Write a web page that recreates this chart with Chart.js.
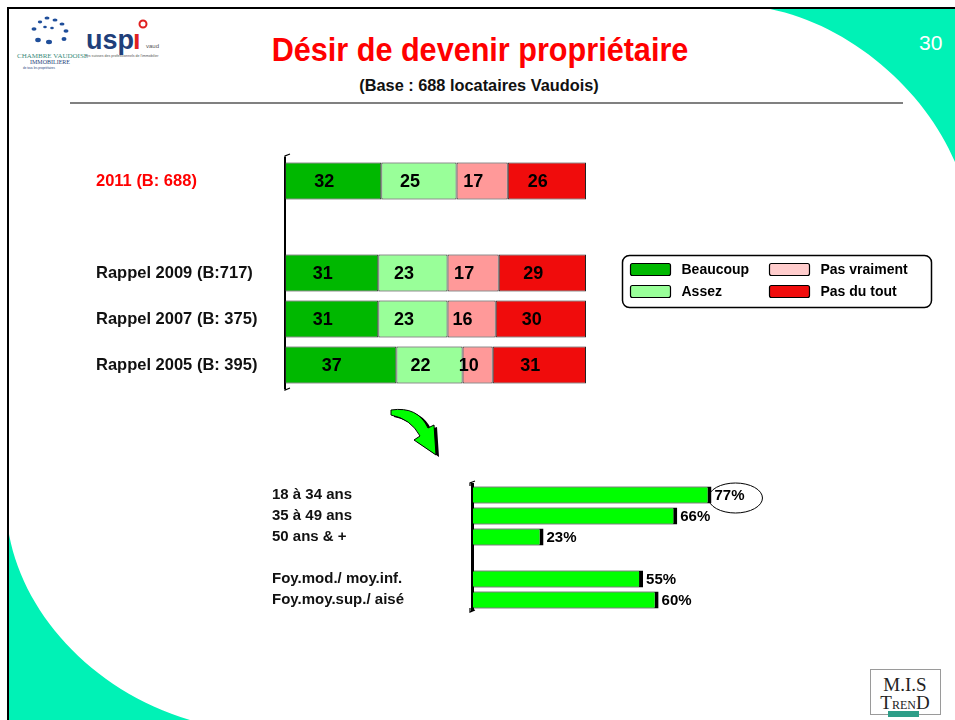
<!DOCTYPE html>
<html><head><meta charset="utf-8">
<script src="https://cdn.jsdelivr.net/npm/chart.js@4.4.0/dist/chart.umd.min.js"></script>
<style>
html,body{margin:0;padding:0;background:#fff;}
body{width:955px;height:720px;position:relative;overflow:hidden;font-family:'Liberation Sans Narrow','Arial Narrow','Liberation Sans',sans-serif;}
#deco{position:absolute;left:0;top:0;}
.t{position:absolute;white-space:nowrap;line-height:1;}
canvas{position:absolute;}
</style></head><body>
<svg id="deco" width="955" height="720">
  <path d="M770 9 C850 25 925 90 955 162 L955 9 Z" fill="#00F2B6"/>
  <path d="M8 528 C20 610 90 690 190 720 L8 720 Z" fill="#00F2B6"/>
  <line x1="7" y1="8" x2="955" y2="8" stroke="#000" stroke-width="2"/>
  <line x1="8" y1="7" x2="8" y2="720" stroke="#000" stroke-width="2"/>
  <line x1="70" y1="103" x2="903" y2="103" stroke="#808080" stroke-width="2"/>
  <!-- top-left logo -->
  <g fill="#1F4E9A">
    <ellipse cx="47" cy="18" rx="2.5" ry="1.5"/>
    <ellipse cx="55" cy="20" rx="2.5" ry="1.5"/>
    <ellipse cx="62" cy="24" rx="2.5" ry="1.6"/>
    <ellipse cx="66" cy="31" rx="2.5" ry="1.8"/>
    <ellipse cx="64" cy="39" rx="2.5" ry="2"/>
    <ellipse cx="40" cy="22" rx="2.2" ry="1.4"/>
    <ellipse cx="34" cy="29" rx="2.5" ry="1.8"/>
    <ellipse cx="38" cy="40" rx="2.8" ry="2.2"/>
    <ellipse cx="49" cy="42" rx="3" ry="2.2"/>
    <ellipse cx="52" cy="28" rx="1.8" ry="1.2"/>
    <ellipse cx="45" cy="27" rx="1.8" ry="1.2"/>
  </g>
  <text x="17" y="58" font-family="Liberation Serif" font-size="7" fill="#3C8C7C">CHAMBRE VAUDOISE</text>
  <text x="30" y="64" font-family="Liberation Serif" font-size="6" fill="#1F3F7A">IMMOBILIERE</text>
  <text x="23" y="69" font-family="Liberation Sans" font-size="3" fill="#1F3F7A">de tous les propriétaires</text>
  <text x="86" y="49" font-family="Liberation Sans" font-weight="bold" font-size="27" fill="#1F3F7A">usp</text>
  <text x="133" y="49" font-family="Liberation Sans" font-weight="bold" font-size="27" fill="#E02020">ı</text>
  <circle cx="143" cy="24" r="3.5" fill="none" stroke="#E02020" stroke-width="2"/>
  <text x="146" y="48" font-family="Liberation Sans" font-size="6" fill="#555">vaud</text>
  <text x="86" y="57" font-family="Liberation Sans" font-size="3.6" fill="#555">les suisses des professionnels de l'immobilier</text>
  <!-- axis brackets (3D floor edges) -->
  <path d="M285 160 L285 156 L290 154" fill="none" stroke="#000" stroke-width="1.2"/>
  <path d="M285 386 L285 390 L290 388" fill="none" stroke="#000" stroke-width="1.2"/>
  <path d="M470 486 L470 483 L475 481" fill="none" stroke="#000" stroke-width="1.2"/>
  <path d="M470 608 L470 612 L475 610" fill="none" stroke="#000" stroke-width="1.2"/>
  <!-- arrow -->
  <path d="M394 412 Q421 408 431 429 L437 427 L439 457 L417 442 L423 438 Q414 421 394 417 Z" fill="#000"/>
  <path d="M391 410 Q418 406 428 428 L434 425 L436 455 L414 440 L420 436 Q411 419 391 415 Z" fill="#00FF00" stroke="#000" stroke-width="1"/>
  <!-- MIS TREND logo -->
  <rect x="870.5" y="669.5" width="70" height="45" fill="#fff" stroke="#9a9a9a" stroke-width="1"/>
  <text x="905" y="691" text-anchor="middle" font-family="Liberation Serif" font-size="19" fill="#222">M.I.S</text>
  <text x="905" y="709" text-anchor="middle" font-family="Liberation Serif" fill="#222"><tspan font-size="19">T</tspan><tspan font-size="12">REN</tspan><tspan font-size="19">D</tspan></text>
  <rect x="888" y="711" width="31" height="6" fill="#2E9E88"/>
</svg>

<div class="t" style="left:0;width:960px;text-align:center;top:32px;font-size:34px;font-weight:bold;color:#FF0000;transform:scaleX(0.9);transform-origin:480px 0;">Désir de devenir propriétaire</div>
<div class="t" style="left:0;width:958px;text-align:center;top:77px;font-size:17px;font-weight:bold;color:#111;transform:scaleX(0.96);transform-origin:479px 0;">(Base : 688 locataires Vaudois)</div>
<div class="t" style="left:919px;top:32px;font-size:21px;color:#fff;">30</div>

<canvas id="c1" width="870" height="260" style="left:80px;top:143px;"></canvas>
<canvas id="c2" width="560" height="155" style="left:260px;top:470px;"></canvas>

<script>
// ---------- data (top chart) ----------
const years = ['2011 (B: 688)', '', 'Rappel 2009 (B:717)', 'Rappel 2007 (B: 375)', 'Rappel 2005 (B: 395)'];
const beaucoup    = [32, null, 31, 31, 37];
const assez       = [25, null, 23, 23, 22];
const pasVraiment = [17, null, 17, 16, 10];
const pasDuTout   = [26, null, 29, 30, 31];
const seriesNames = ['Beaucoup', 'Assez', 'Pas vraiment', 'Pas du tout'];

// ---------- data (bottom chart) ----------
const groups = ['18 à 34 ans', '35 à 49 ans', '50 ans & +', '', 'Foy.mod./ moy.inf.', 'Foy.moy.sup./ aisé'];
const desire = [77, 66, 23, null, 55, 60];

// ---------- styles ----------
const FONT = "'Liberation Sans Narrow','Arial Narrow','Liberation Sans',sans-serif";
const barColors = ['#00B800', '#99FF99', '#FF9999', '#F00C0C'];
const legendColors = ['#00B800', '#99FF99', '#FFCCCC', '#F00C0C'];

const stackLabels = {
  id: 'stackLabels',
  afterDatasetsDraw(chart) {
    const ctx = chart.ctx;
    ctx.save();
    ctx.font = 'bold 18px ' + FONT;
    ctx.fillStyle = '#000';
    ctx.textAlign = 'center';
    ctx.textBaseline = 'middle';
    chart.data.datasets.forEach((ds, i) => {
      chart.getDatasetMeta(i).data.forEach((bar, j) => {
        const v = ds.data[j];
        if (v == null) return;
        ctx.fillText(String(v), (bar.x + bar.base) / 2 - 9, bar.y + 1);
      });
    });
    ctx.restore();
  }
};

const boxLegend = {
  id: 'boxLegend',
  afterDraw(chart) {
    const ctx = chart.ctx;
    const bx = 542.5, by = 112.5, bw = 309, bh = 52;
    ctx.save();
    ctx.lineWidth = 1.5;
    ctx.strokeStyle = '#000';
    ctx.fillStyle = '#fff';
    ctx.beginPath();
    ctx.roundRect(bx, by, bw, bh, 7);
    ctx.fill(); ctx.stroke();
    ctx.font = 'bold 14px ' + FONT;
    ctx.textBaseline = 'middle';
    ctx.textAlign = 'left';
    const cols = [bx + 8, bx + 147];
    const rows = [by + 14, by + 36];
    seriesNames.forEach((name, si) => {
      const cx = (si === 0 || si === 1) ? cols[0] : cols[1];
      const cy = (si === 0 || si === 2) ? rows[0] : rows[1];
      ctx.fillStyle = legendColors[si];
      ctx.lineWidth = 1.2;
      ctx.beginPath();
      ctx.roundRect(cx, cy - 6, 40, 12, 2);
      ctx.fill(); ctx.stroke();
      ctx.fillStyle = '#000';
      ctx.fillText(name, cx + 51, cy + 1);
    });
    ctx.restore();
  }
};

new Chart(document.getElementById('c1'), {
  type: 'bar',
  data: {
    labels: years,
    datasets: [beaucoup, assez, pasVraiment, pasDuTout].map((d, i) => ({
      label: seriesNames[i],
      data: d,
      backgroundColor: barColors[i],
      borderColor: '#222',
      borderWidth: 1,
      borderSkipped: false,
      barPercentage: 1,
      categoryPercentage: 0.8
    }))
  },
  options: {
    indexAxis: 'y',
    responsive: false,
    animation: false,
    layout: { padding: { left: 16, right: 364, top: 15, bottom: 15 } },
    scales: {
      x: { stacked: true, min: 0, max: 100, display: false },
      y: {
        stacked: true,
        grid: { display: false },
        border: { display: true, color: '#000', width: 2 },
        ticks: {
          crossAlign: 'far',
          color: (c) => c.index === 0 ? '#FF0000' : '#111',
          font: { family: FONT, size: 16.5, weight: 'bold' }
        },
        afterFit(a) { a.width = 189; }
      }
    },
    plugins: { legend: { display: false }, tooltip: { enabled: false } }
  },
  plugins: [stackLabels, boxLegend]
});

const valueLabels = {
  id: 'valueLabels',
  afterDatasetsDraw(chart) {
    const ctx = chart.ctx;
    const ds = chart.data.datasets[0];
    const meta = chart.getDatasetMeta(0);
    let maxI = 0;
    ds.data.forEach((v, i) => { if (v != null && v > ds.data[maxI]) maxI = i; });
    ctx.save();
    ctx.font = 'bold 15px ' + FONT;
    ctx.fillStyle = '#000';
    ctx.textAlign = 'left';
    ctx.textBaseline = 'middle';
    meta.data.forEach((bar, j) => {
      const v = ds.data[j];
      if (v == null) return;
      ctx.fillText(v + '%', bar.x + 3, bar.y + 1);
    });
    const b = meta.data[maxI];
    ctx.strokeStyle = '#000';
    ctx.lineWidth = 1;
    ctx.beginPath();
    ctx.ellipse(b.x + 24, b.y + 3, 27, 15, 0, 0, Math.PI * 2);
    ctx.stroke();
    ctx.restore();
  }
};

new Chart(document.getElementById('c2'), {
  type: 'bar',
  data: {
    labels: groups,
    datasets: [{
      label: 'Désir',
      data: desire,
      backgroundColor: '#00FF00',
      borderColor: '#000',
      borderWidth: { top: 1, bottom: 1, left: 1, right: 4 },
      borderSkipped: false,
      barPercentage: 1,
      categoryPercentage: 0.8
    }]
  },
  options: {
    indexAxis: 'y',
    responsive: false,
    animation: false,
    layout: { padding: { left: 12, right: 37, top: 14.5, bottom: 14.5 } },
    scales: {
      x: { min: 0, max: 100, display: false },
      y: {
        grid: { display: false },
        border: { display: true, color: '#000', width: 3 },
        ticks: {
          crossAlign: 'far',
          color: '#111',
          font: { family: FONT, size: 15, weight: 'bold' }
        },
        afterFit(a) { a.width = 200; }
      }
    },
    plugins: { legend: { display: false }, tooltip: { enabled: false } }
  },
  plugins: [valueLabels]
});
</script>
</body></html>
